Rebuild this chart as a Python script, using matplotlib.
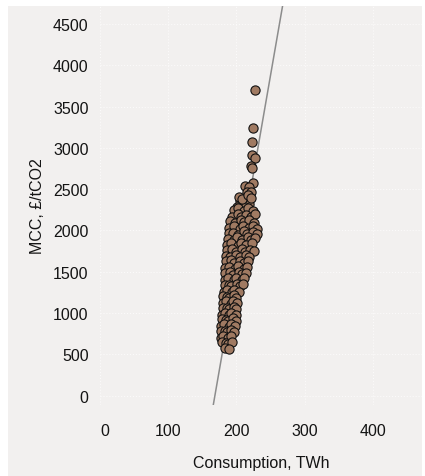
import numpy as np
import matplotlib.pyplot as plt
from matplotlib.patches import Rectangle
from matplotlib.transforms import ScaledTranslation

# ─────────────────────────────────────────────────────────────────────────────
# DATA
# ─────────────────────────────────────────────────────────────────────────────
consumption_twh = [
    227, 225, 223, 223, 227, 222, 223, 225, 213, 219, 215, 221, 206, 219, 201, 213,
    204, 209, 217, 221,
    197, 202, 212, 217, 224,
    194, 203, 207, 214, 221, 228,
    191, 198, 207, 212, 219, 226,
    190, 196, 205, 210, 219, 224, 230,
    189, 195, 202, 211, 216, 225, 231,
    188, 196, 201, 208, 217, 222, 228,
    187, 193, 202, 207, 214, 223,
    186, 194, 199, 208, 213, 220, 226,
    185, 191, 200, 205, 214, 218,
    185, 192, 197, 206, 211, 217,
    184, 189, 198, 203, 212, 216,
    184, 191, 195, 204, 208, 214,
    183, 188, 196, 200, 208, 211,
    183, 189, 193, 201, 205, 210,
    182, 186, 194, 197, 204,
    181, 187, 190, 197, 200,
    181, 185, 192, 195, 201,
    180, 186, 189, 196, 200,
    179, 183, 190, 193, 199,
    179, 185, 188, 195, 199,
    178, 182, 189, 192, 198,
    177, 183, 186, 193, 197,
    177, 181, 188, 192,
    179, 185, 188, 194,
    183, 189,
]
mcc_gbp_per_tco2 = [
    3705, 3237, 3068, 2914, 2878, 2785, 2760, 2571, 2542, 2523, 2470, 2470, 2361, 2321, 2281, 2281,
    2411, 2384, 2425, 2392,
    2246, 2275, 2233, 2266, 2240,
    2168, 2199, 2160, 2191, 2163, 2196,
    2119, 2091, 2128, 2098, 2123, 2088,
    2028, 2055, 2022, 2060, 2031, 2053, 2021,
    1975, 1966, 1950, 1988, 1955, 1979, 1952,
    1898, 1883, 1920, 1889, 1915, 1886, 1908,
    1821, 1847, 1815, 1843, 1818, 1845,
    1765, 1777, 1745, 1772, 1741, 1769, 1748,
    1685, 1673, 1705, 1678, 1702, 1675,
    1625, 1637, 1605, 1632, 1608, 1635,
    1541, 1562, 1533, 1565, 1538, 1559,
    1485, 1492, 1465, 1497, 1468, 1489,
    1401, 1422, 1395, 1425, 1398, 1419,
    1345, 1338, 1325, 1355, 1328, 1349,
    1261, 1282, 1255, 1285, 1258,
    1205, 1198, 1185, 1215, 1188,
    1121, 1142, 1115, 1145, 1118,
    1065, 1058, 1045, 1075, 1048,
    981, 1002, 975, 1005, 978,
    925, 918, 905, 935, 908,
    841, 862, 835, 865, 838,
    785, 778, 765, 795, 768,
    701, 722, 695, 725,
    647, 641, 628, 652,
    582, 560,
]

# fitted trend line (slope in £/tCO2 per TWh)
FIT_SLOPE = 47.6
FIT_INTERCEPT = -8030.0
FIT_X_RANGE = [150, 290]

x_ticks = [0, 100, 200, 300, 400]
y_ticks = [0, 500, 1000, 1500, 2000, 2500, 3000, 3500, 4000, 4500]

# ─────────────────────────────────────────────────────────────────────────────
# STYLE
# ─────────────────────────────────────────────────────────────────────────────
BG = "#f2f0ef"
POINT = "#a07a62"
TEXT = "#141414"
plt.rcParams["font.family"] = ["Liberation Sans", "DejaVu Sans"]

W, H = 425, 477
fig = plt.figure(figsize=(W / 100, H / 100), dpi=100)
fig.patch.set_facecolor("white")
fig.patches.append(Rectangle((8 / W, 0), (422 - 8) / W, (H - 6.7) / H,
                             transform=fig.transFigure, facecolor=BG,
                             edgecolor="none", zorder=-10))

ax = fig.add_axes([99.7 / W, (H - 406) / H, (422 - 99.7) / W, (406 - 6.7) / H])
ax.set_facecolor(BG)

fit_x = np.array(FIT_X_RANGE, dtype=float)
ax.plot(fit_x, FIT_SLOPE * fit_x + FIT_INTERCEPT, color="#8c8c8c", linewidth=1.1, zorder=2)

ax.scatter(consumption_twh, mcc_gbp_per_tco2, s=44, color=POINT,
           edgecolor="#111111", linewidth=0.8, zorder=3)

ax.set_xlim(0, 472)
ax.set_ylim(-113, 4721)
ax.set_xticks(x_ticks)
ax.set_yticks(y_ticks)
ax.tick_params(length=0, labelsize=11.5, labelcolor=TEXT)
ax.tick_params(axis="x", pad=13)
ax.tick_params(axis="y", pad=8)
ax.grid(True, color="#fbfafa", linestyle=":", linewidth=0.8, zorder=0)
ax.set_axisbelow(True)
for side in ax.spines.values():
    side.set_visible(False)

# the "0" label sits a little inside the left edge in the original
first = ax.get_xticklabels()[0]
first.set_transform(first.get_transform() + ScaledTranslation(5 / 100, 0, fig.dpi_scale_trans))

ax.set_xlabel("Consumption, TWh", fontsize=11.5, color=TEXT, labelpad=12)
ax.set_ylabel("MCC, £/tCO2", fontsize=11.5, color=TEXT, labelpad=6)

fig.savefig("out.png", dpi=100, facecolor=fig.get_facecolor())
